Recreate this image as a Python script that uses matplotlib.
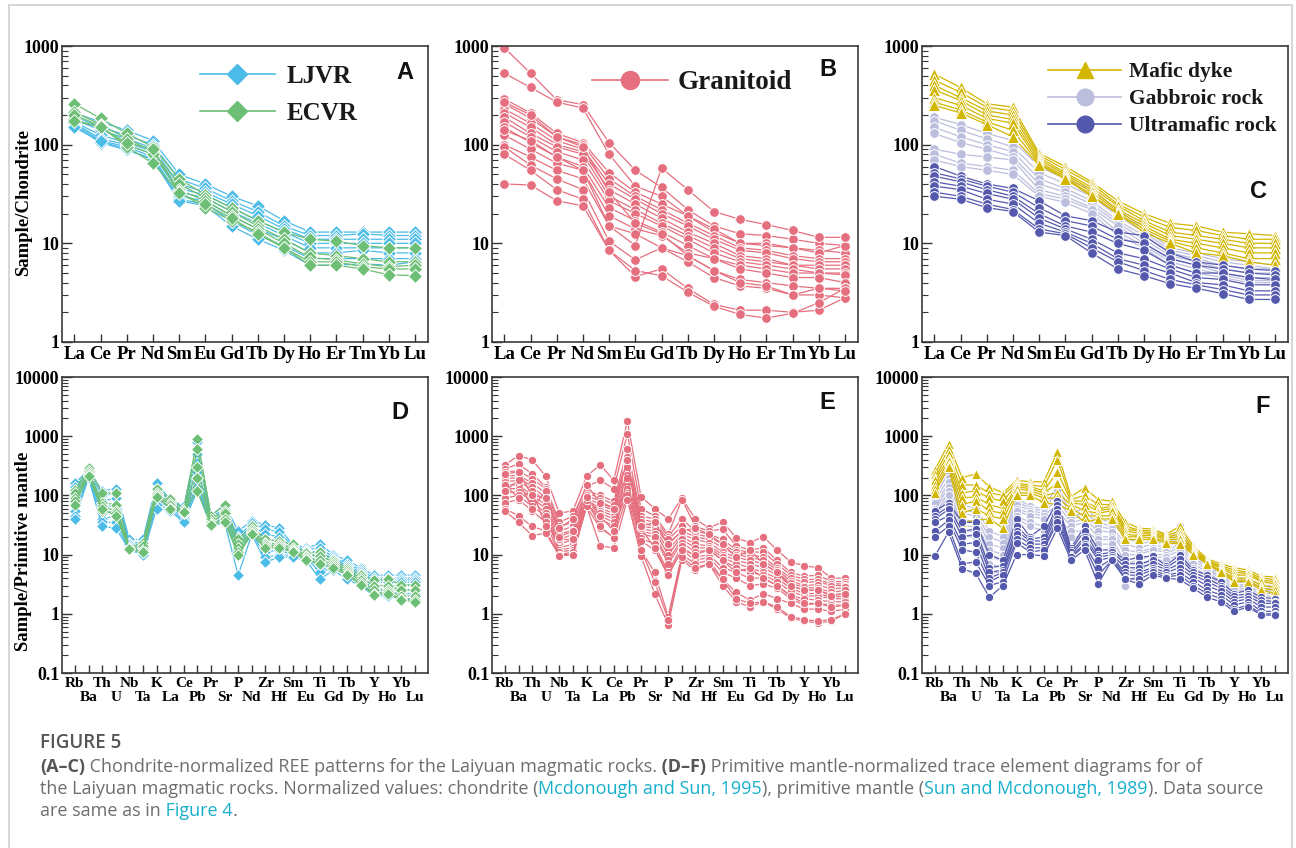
import matplotlib.pyplot as plt
from matplotlib.lines import Line2D
from matplotlib.patches import Rectangle

# element orders
ree = ['La', 'Ce', 'Pr', 'Nd', 'Sm', 'Eu', 'Gd', 'Tb', 'Dy', 'Ho', 'Er', 'Tm', 'Yb', 'Lu']
spider = ['Rb', 'Ba', 'Th', 'U', 'Nb', 'Ta', 'K', 'La', 'Ce', 'Pb', 'Pr', 'Sr', 'P',
          'Nd', 'Zr', 'Hf', 'Sm', 'Eu', 'Ti', 'Gd', 'Tb', 'Dy', 'Y', 'Ho', 'Yb', 'Lu']

# chondrite normalized REE (A)
ljvr_ree = [
    [210, 170, 140, 110, 50, 40, 30, 24, 17, 13, 13, 13, 13, 13],
    [195, 150, 125, 100, 45, 36, 27, 21, 15, 12, 12, 12.5, 12, 12],
    [180, 140, 115, 92, 40, 33, 25, 19, 14, 11, 11, 11, 11, 11],
    [170, 125, 105, 85, 36, 31, 23, 17, 13, 10, 10, 10, 10, 10],
    [165, 115, 100, 80, 33, 29, 21, 16, 12, 9, 9, 9, 9, 9],
    [160, 110, 95, 75, 30, 27, 19, 14, 11, 8, 8, 8.5, 8, 8],
    [155, 105, 88, 72, 28, 25, 17, 12, 9.5, 7, 7, 7, 7, 7],
    [150, 108, 90, 70, 27, 24, 15, 11, 8.5, 6, 6, 6.2, 6, 6.5],
]
ecvr_ree = [
    [260, 185, 130, 95, 45, 31, 23, 17, 13, 11, 10.5, 9.5, 9, 9],
    [215, 160, 115, 85, 40, 29, 21, 15, 11, 8, 7.5, 7, 6.5, 6.5],
    [180, 150, 100, 80, 35, 27, 19, 14, 10, 7.2, 6.8, 6.2, 5.8, 6],
    [200, 155, 95, 65, 33, 23, 17, 13, 9, 6.5, 6.5, 5.8, 5.5, 5.5],
    [175, 150, 105, 90, 32, 25, 18, 12.5, 9, 6, 6, 5.5, 4.8, 4.7],
]

# (B)
gran_ree = [
    [960, 530, 285, 255, 105, 55, 37, 22, 15, 12.5, 12, 11, 10, 9.5],
    [530, 380, 270, 235, 80, 38, 30, 19, 13, 10, 10, 9, 8.5, 8],
    [290, 210, 130, 105, 52, 33, 25, 19, 14, 10, 9.5, 9, 8, 9.5],
    [260, 185, 120, 100, 45, 30, 22, 16, 12, 9, 8.5, 7.5, 7, 7],
    [230, 165, 110, 90, 40, 28, 20, 15, 11, 8.5, 8, 7, 6.5, 6.5],
    [210, 150, 100, 85, 35, 25, 18, 13, 10, 7.5, 7, 6, 6, 6],
    [190, 130, 95, 80, 30, 22, 16, 12, 9, 7, 6.5, 6, 5.5, 5.5],
    [170, 120, 85, 70, 27, 20, 15, 11, 8, 6.5, 6, 5.5, 5, 5],
    [150, 105, 75, 60, 23, 17, 13, 9.5, 7, 6, 5.5, 5, 5, 4.8],
    [125, 90, 65, 55, 19, 14, 12, 8, 7, 5.5, 5, 4.5, 4.5, 4],
    [100, 75, 55, 45, 15, 12.5, 9, 7.5, 5.3, 4.3, 4, 3.7, 3.5, 3.5],
    [95, 62, 45, 35, 10.5, 6.8, 9, 6.5, 4.5, 3.7, 3.5, 3, 3, 2.8],
    [80, 55, 35, 28, 8.5, 4.6, 5.5, 3.5, 2.4, 2.1, 2.1, 2, 2.1, 2.8],
    [40, 39, 27, 24, 8.5, 5.3, 4.7, 3.2, 2.3, 1.9, 1.75, 1.95, 2.5, 3.5],
    [140, 110, 75, 55, 15, 9.5, 58, 35, 21, 17.5, 15.5, 13.5, 11.5, 11.5],
    [270, 200, 120, 95, 33, 16, 12.5, 7.5, 5.3, 4, 3.7, 3, 3.5, 3.3],
]

# (C)
mafic_ree = [
    [520, 380, 260, 240, 82, 60, 42, 27, 20, 16, 15, 13, 12.5, 12],
    [450, 340, 240, 220, 78, 56, 40, 25, 18.5, 14.5, 13.5, 12, 11, 11],
    [400, 300, 220, 200, 74, 52, 37, 24, 17, 13, 12, 11, 10, 10],
    [360, 280, 200, 180, 70, 50, 35, 22, 16, 12, 11, 10, 9, 9],
    [300, 250, 185, 165, 66, 48, 33, 21, 15, 11, 10, 9, 8, 8],
    [270, 225, 170, 140, 64, 46, 31, 20, 14, 10.5, 9, 8, 7, 7],
    [250, 210, 160, 120, 62, 45, 30, 20, 13, 10, 8, 7.5, 6.5, 6],
]
gabbro_ree = [
    [190, 160, 130, 110, 60, 45, 35, 22, 14, 9, 8, 7, 6.5, 6],
    [175, 140, 115, 95, 52, 40, 30, 19, 13, 8.5, 7.5, 6.5, 6, 5.5],
    [150, 120, 100, 85, 45, 36, 27, 17, 12, 8, 7, 6, 5.5, 5.5],
    [130, 105, 90, 75, 40, 33, 25, 16, 11, 7.5, 6.5, 5.5, 5, 5],
    [90, 80, 75, 70, 35, 30, 23, 15, 10, 7, 6, 5, 4.5, 4.5],
    [80, 65, 60, 55, 32, 28, 22, 13, 9.5, 6.5, 5.5, 4.8, 4.2, 4.2],
    [70, 60, 55, 50, 30, 26, 20, 12, 9, 6, 5, 4.5, 4, 4],
]
ultra_ree = [
    [60, 48, 40, 36, 27, 19, 17, 13, 12, 8, 6.5, 6, 5.5, 5.3],
    [52, 45, 38, 33, 23, 17, 15, 11, 10, 7, 6, 5.5, 5, 4.8],
    [48, 42, 35, 30, 20, 15, 13, 10, 8.5, 6, 5, 5, 4.5, 4.3],
    [42, 38, 32, 28, 18, 14, 11, 8, 7, 5.5, 4.5, 4.3, 3.8, 3.8],
    [38, 35, 28, 25, 16, 13, 10, 7, 6, 5, 4, 3.8, 3.3, 3.3],
    [33, 30, 25, 22, 14, 12.5, 9, 6.5, 5.3, 4.3, 3.8, 3.4, 3, 3],
    [30, 28, 23, 21, 13, 12, 8, 5.5, 4.7, 3.9, 3.5, 3.1, 2.7, 2.7],
]

# primitive mantle normalized (D)
ljvr_pm = [
    [160, 270, 120, 130, 18, 18, 160, 85, 65, 800, 45, 70, 25, 37, 32, 28, 15, 13, 15, 10, 8, 6, 4.5, 4.5, 4.5, 4.5],
    [140, 250, 100, 110, 16, 16, 130, 80, 60, 500, 42, 60, 20, 34, 27, 24, 14, 12, 13, 9, 7, 5.5, 4, 4, 4, 4],
    [120, 240, 80, 90, 15, 15, 110, 75, 55, 350, 40, 55, 18, 31, 22, 20, 13, 11.5, 11, 8.5, 6.5, 5, 3.7, 3.7, 3.7, 3.7],
    [100, 230, 60, 70, 14, 14, 100, 70, 50, 250, 38, 50, 16, 29, 18, 17, 12, 11, 9, 8, 6, 4.7, 3.4, 3.4, 3.4, 3.4],
    [80, 220, 50, 55, 13, 13, 90, 65, 45, 200, 35, 45, 14, 27, 14, 14, 11, 10, 7, 7, 5.5, 4.3, 3, 3, 3, 3],
    [55, 210, 40, 45, 12.5, 12, 80, 62, 42, 160, 33, 42, 12, 25, 11, 12, 10, 9.5, 6, 6.5, 5, 4, 2.6, 2.6, 2.5, 2.6],
    [45, 200, 35, 35, 12, 11, 70, 58, 38, 140, 31, 38, 10, 24, 9, 10, 9.5, 9, 5, 6, 4.5, 3.5, 2.3, 2.3, 2.2, 2.2],
    [40, 200, 30, 28, 12, 10, 60, 55, 35, 120, 30, 35, 4.5, 22, 7.5, 9, 9, 8, 3.8, 5.5, 3.8, 3, 2, 2, 1.8, 1.8],
]
ecvr_pm = [
    [125, 290, 110, 110, 13, 16, 130, 88, 60, 900, 45, 70, 18, 30, 18, 17, 15, 10.5, 11, 8, 6, 4.5, 3.7, 3.8, 3.1, 3.1],
    [110, 260, 75, 70, 12.5, 14, 110, 75, 55, 600, 40, 55, 15, 27, 16, 15, 13, 9.5, 9.5, 7.5, 5.5, 4, 3, 3, 2.5, 2.5],
    [90, 240, 65, 55, 12.5, 12, 100, 70, 52, 300, 35, 50, 13, 25, 15, 14, 12, 9, 8, 7, 5, 3.7, 2.5, 2.5, 2, 2],
    [80, 220, 55, 50, 12.5, 11, 95, 62, 50, 200, 33, 40, 11, 23, 14, 14, 11.5, 8.5, 7, 6.5, 4.7, 3.3, 2.2, 2.3, 1.8, 1.7],
    [70, 210, 60, 45, 12.5, 11, 95, 60, 52, 120, 32, 36, 10, 22, 13, 13, 11, 8, 7, 6, 4.5, 3.1, 2.1, 2.2, 1.7, 1.6],
]

# (E)
gran_pm = [
    [330, 470, 400, 210, 50, 55, 210, 330, 180, 1800, 95, 60, 40, 90, 40, 28, 36, 19, 16, 20, 12, 7.5, 6.5, 6, 4, 4],
    [280, 340, 230, 140, 35, 45, 140, 180, 130, 1100, 60, 45, 22, 85, 30, 25, 27, 14, 12, 13, 8, 5, 4.3, 4.5, 3.5, 3.5],
    [250, 260, 190, 130, 30, 35, 120, 100, 80, 600, 45, 40, 20, 40, 25, 22, 18, 12, 11, 11, 7, 4.5, 3.8, 3.8, 3.2, 3.2],
    [210, 220, 160, 110, 25, 30, 110, 90, 70, 450, 40, 35, 18, 30, 22, 20, 15, 11, 10, 9, 6, 4, 3.4, 3.5, 3, 3],
    [190, 200, 140, 90, 22, 26, 100, 80, 60, 350, 35, 30, 15, 25, 20, 18, 13, 10, 9, 8, 5.5, 3.6, 3, 3.1, 2.6, 2.8],
    [170, 180, 120, 80, 18, 22, 90, 70, 55, 280, 30, 28, 12, 22, 18, 16, 11, 9, 8, 7, 5, 3.3, 2.8, 2.7, 2.3, 2.5],
    [150, 150, 100, 70, 15, 18, 85, 60, 50, 220, 27, 25, 10, 20, 15, 14, 10, 8, 7, 6, 4.5, 3, 2.5, 2.5, 2.1, 2.2],
    [130, 130, 90, 60, 13, 15, 80, 55, 45, 180, 25, 22, 8, 18, 13, 13, 9, 7, 6, 5, 4, 2.7, 2.2, 2.2, 1.9, 2],
    [110, 115, 80, 50, 12, 13, 75, 50, 40, 150, 22, 20, 7, 16, 11, 12, 8, 6, 5, 4.5, 3.5, 2.4, 2, 2, 1.8, 1.8],
    [90, 100, 65, 45, 11, 12, 70, 45, 35, 130, 19, 15, 5, 14, 9, 10, 6, 5, 4, 4, 3, 2, 1.8, 1.7, 1.6, 1.6],
    [75, 85, 55, 35, 10, 11, 68, 40, 30, 110, 17, 12, 4.5, 12, 8, 9, 5, 4, 3, 3.2, 2.7, 1.8, 1.4, 1.5, 1.4, 1.4],
    [60, 45, 30, 25, 10, 10, 65, 28, 20, 100, 12, 5, 0.9, 10, 7, 8, 3.8, 2.3, 1.7, 2.2, 1.8, 1.5, 1.2, 1.2, 1.1, 1.2],
    [55, 35, 21, 23, 9.5, 10, 65, 14, 13, 85, 9.5, 2.2, 0.65, 8, 5.5, 7, 3, 1.6, 1.3, 1.6, 1.2, 0.85, 0.75, 0.7, 0.75, 1],
    [150, 90, 120, 30, 18, 18, 85, 30, 19, 200, 12, 3.5, 0.8, 9, 6, 7, 3.8, 1.8, 1.5, 1.6, 1.3, 0.9, 0.8, 0.75, 0.8, 1],
    [120, 180, 60, 120, 20, 25, 95, 45, 25, 300, 28, 13, 4.5, 12, 10, 12, 8, 5, 6, 4, 3, 2, 1.5, 1.5, 1.3, 1.4],
    [230, 250, 100, 90, 28, 40, 150, 75, 60, 400, 30, 35, 15, 25, 28, 22, 15, 9, 12, 7, 5, 3, 2.5, 2.5, 2, 2.2],
]

# (F)
mafic_pm = [
    [270, 750, 200, 230, 140, 110, 180, 170, 170, 540, 95, 135, 85, 80, 35, 28, 27, 22, 30, 14, 8.5, 7, 6, 5.5, 4.3, 4.2],
    [230, 600, 150, 150, 110, 100, 160, 150, 140, 400, 85, 100, 70, 70, 30, 26, 25, 21, 25, 13, 8, 6.5, 5.5, 5, 4, 3.8],
    [200, 500, 110, 120, 90, 80, 150, 140, 120, 250, 80, 80, 60, 65, 27, 25, 23, 20, 22, 12, 7.8, 6.2, 5, 4.8, 3.7, 3.5],
    [180, 420, 90, 95, 70, 60, 140, 130, 110, 160, 75, 70, 55, 60, 25, 23, 22, 19, 20, 11.5, 7.5, 6, 4.5, 4.5, 3.5, 3.2],
    [150, 380, 70, 80, 55, 50, 130, 120, 100, 110, 70, 55, 50, 55, 22, 21, 21, 18, 18, 11, 7.2, 5.5, 4, 4, 3, 2.8],
    [130, 330, 50, 60, 45, 40, 110, 110, 90, 90, 60, 45, 45, 45, 20, 20, 19, 17, 16, 10.5, 7, 5.2, 3.7, 3.7, 2.7, 2.5],
    [110, 300, 35, 38, 40, 28, 100, 100, 75, 70, 55, 35, 40, 40, 18, 18, 18, 16, 15, 10, 7, 5, 3.5, 3.5, 2.5, 2.2],
]
gabbro_pm = [
    [110, 300, 70, 60, 25, 20, 90, 65, 60, 150, 50, 60, 40, 35, 20, 15, 17, 15, 30, 11, 7, 5, 4, 4, 3, 3],
    [90, 250, 60, 50, 20, 16, 80, 60, 55, 120, 45, 50, 35, 30, 15, 13, 15, 13, 25, 10, 6.5, 4.6, 3.7, 3.7, 2.7, 2.7],
    [75, 200, 50, 45, 15, 13, 70, 55, 50, 90, 40, 45, 30, 27, 12, 11, 13, 12, 20, 9, 6, 4.2, 3.4, 3.4, 2.5, 2.4],
    [60, 170, 40, 35, 12, 10, 60, 50, 45, 70, 35, 40, 25, 24, 10, 10, 12, 11, 16, 8, 5.5, 4, 3.1, 3.1, 2.2, 2.2],
    [55, 140, 30, 30, 9, 8, 55, 45, 40, 55, 30, 35, 20, 20, 7, 8, 10, 10, 14, 7, 5, 3.6, 2.9, 2.9, 2, 2],
    [45, 120, 25, 25, 7, 6, 45, 35, 30, 40, 25, 25, 18, 18, 5, 6, 9, 9, 12, 6, 4.5, 3.3, 2.7, 2.7, 1.7, 1.7],
    [40, 100, 20, 20, 5, 5, 40, 30, 25, 30, 20, 20, 15, 15, 3, 5, 8, 8, 10, 5, 4, 3, 2.5, 2.5, 1.5, 1.5],
]
ultra_pm = [
    [55, 75, 35, 35, 10, 8, 40, 20, 30, 80, 13, 30, 12, 12, 8, 9, 9.5, 6.5, 10, 5.5, 4.5, 3.5, 2.2, 2.5, 1.9, 1.8],
    [45, 65, 25, 27, 6, 6.5, 30, 18, 20, 70, 12, 25, 10, 11, 7, 7, 8, 6, 8.5, 5, 4, 3, 2, 2.2, 1.7, 1.6],
    [40, 58, 20, 22, 5, 5.5, 25, 17, 17, 60, 11, 20, 9, 10, 6, 6, 7, 5.5, 7, 4.5, 3.5, 2.7, 1.8, 2, 1.5, 1.5],
    [35, 45, 15, 16, 4, 5, 22, 15, 15, 50, 10, 18, 8, 9, 5, 5, 6, 5, 6, 4, 3, 2.4, 1.6, 1.8, 1.3, 1.3],
    [25, 38, 12, 11, 3.5, 4.5, 18, 13, 13, 40, 9.5, 15, 6, 8.5, 4.5, 4.5, 5.5, 4.5, 5, 3.5, 2.5, 2.1, 1.4, 1.6, 1.1, 1.1],
    [20, 30, 7, 7.5, 3, 3.5, 16, 11, 12, 35, 9, 14, 4.5, 8, 4, 3.8, 5, 4.2, 4.5, 3, 2.2, 1.8, 1.2, 1.4, 1, 1],
    [9.5, 24, 5.8, 4.8, 1.9, 3, 10, 10, 9.5, 28, 8, 12, 3.2, 8, 3.8, 3.2, 4.5, 4, 3.8, 2.7, 1.9, 1.6, 1.1, 1.3, 0.95, 0.95],
]

c_ljvr = '#4bbbe8'
c_ecvr = '#6cbf74'
c_gran = '#e56f7e'
c_mafic = '#d2b600'
c_gabbro = '#bcbedd'
c_ultra = '#5559ad'

serif = 'Liberation Serif'
sans = 'Liberation Sans'

fig = plt.figure(figsize=(12.96, 8.48), dpi=100)

W, H = 1296, 848
def axes_at(left, top, w=366, h=296):
    return fig.add_axes([left / W, 1 - (top + h) / H, w / W, h / H])

axA = axes_at(62, 46)
axB = axes_at(492, 46)
axC = axes_at(922, 46)
axD = axes_at(62, 377)
axE = axes_at(492, 377)
axF = axes_at(922, 377)


def draw(ax, rows, color, marker, ms):
    for r in rows:
        ax.plot(range(len(r)), r, color=color, lw=0.9, marker=marker, ms=ms,
                mfc=color, mec='white', mew=0.7)


def style(ax, names, ylo, yhi, ticks, two_rows=False):
    ax.set_yscale('log')
    ax.set_ylim(ylo, yhi)
    n = len(names)
    if two_rows:
        ax.set_xlim(-0.95, n - 1 + 0.95)
        fs = 11
    else:
        ax.set_xlim(-0.47, n - 1 + 0.5)
        fs = 13.5
    ax.set_xticks(range(n))
    ax.set_xticklabels(names, fontsize=fs, fontweight='bold', family=serif)
    ax.set_yticks(ticks)
    ax.set_yticklabels([('%g' % t) for t in ticks], fontsize=13,
                       fontweight='bold', family=serif)
    ax.tick_params(axis='x', direction='in', length=6, width=1, pad=3,
                   top=False, color='#333333')
    ax.tick_params(axis='y', which='major', direction='in', length=7, width=1,
                   pad=2, right=False, color='#333333')
    ax.tick_params(axis='y', which='minor', direction='in', length=4, width=0.8,
                   right=False, color='#333333')
    if two_rows:
        # second row of labels sits lower
        for i, tk in enumerate(ax.xaxis.get_major_ticks()):
            if i % 2 == 1:
                tk.set_pad(13)
    for s in ax.spines.values():
        s.set_color('#3a3a3a')
        s.set_linewidth(1.2)


draw(axA, ljvr_ree, c_ljvr, 'D', 7)
draw(axA, ecvr_ree, c_ecvr, 'D', 7)
draw(axB, gran_ree, c_gran, 'o', 7)
draw(axC, gabbro_ree, c_gabbro, 'o', 7)
draw(axC, mafic_ree, c_mafic, '^', 8)
draw(axC, ultra_ree, c_ultra, 'o', 7)

draw(axD, ljvr_pm, c_ljvr, 'D', 6)
draw(axD, ecvr_pm, c_ecvr, 'D', 6)
draw(axE, gran_pm, c_gran, 'o', 6)
draw(axF, gabbro_pm, c_gabbro, 'o', 6)
draw(axF, mafic_pm, c_mafic, '^', 7)
draw(axF, ultra_pm, c_ultra, 'o', 6)

for ax in (axA, axB, axC):
    style(ax, ree, 1, 1000, [1, 10, 100, 1000])
for ax in (axD, axE, axF):
    style(ax, spider, 0.1, 10000, [0.1, 1, 10, 100, 1000, 10000], two_rows=True)

axA.set_ylabel('Sample/Chondrite', fontsize=13.5, fontweight='bold', family=serif)
axA.yaxis.set_label_coords(-0.082, 0.47)
axD.set_ylabel('Sample/Primitive mantle', fontsize=13.5, fontweight='bold', family=serif)
axD.yaxis.set_label_coords(-0.082, 0.41)

# panel letters
for ax, letter, x, y in [(axA, 'A', 0.937, 0.91), (axB, 'B', 0.918, 0.92),
                         (axC, 'C', 0.92, 0.51), (axD, 'D', 0.924, 0.88),
                         (axE, 'E', 0.915, 0.915), (axF, 'F', 0.93, 0.90)]:
    ax.text(x, y, letter, transform=ax.transAxes, ha='center', va='center',
            fontsize=17, fontweight='bold', family=sans, color='#111111')


def handle(color, marker, ms):
    return Line2D([], [], color=color, lw=1.2, marker=marker, ms=ms, mfc=color,
                  mec=color)


leg_font = {'family': serif, 'weight': 'bold', 'size': 18}
axA.legend([handle(c_ljvr, 'D', 10), handle(c_ecvr, 'D', 10)], ['LJVR', 'ECVR'],
           loc='upper left', bbox_to_anchor=(0.377, 0.935), frameon=False,
           prop=leg_font, handlelength=3.0, handletextpad=0.45, labelspacing=0.55,
           borderpad=0, borderaxespad=0, numpoints=1, labelcolor='#1a1a1a')
axB.legend([handle(c_gran, 'o', 13)], ['Granitoid'],
           loc='upper left', bbox_to_anchor=(0.273, 0.918), frameon=False,
           prop={'family': serif, 'weight': 'bold', 'size': 19.5},
           handlelength=2.8, handletextpad=0.35, borderpad=0, borderaxespad=0,
           numpoints=1, labelcolor='#1a1a1a')
axC.legend([handle(c_mafic, '^', 12), handle(c_gabbro, 'o', 12), handle(c_ultra, 'o', 12)],
           ['Mafic dyke', 'Gabbroic rock', 'Ultramafic rock'],
           loc='upper left', bbox_to_anchor=(0.344, 0.945), frameon=False,
           prop={'family': serif, 'weight': 'bold', 'size': 15.5},
           handlelength=3.4, handletextpad=0.35, labelspacing=0.32, borderpad=0,
           borderaxespad=0, numpoints=1, labelcolor='#1a1a1a')

# outer frame
fig.add_artist(Rectangle((9 / W, -0.05), (1292 - 9) / W, 1.05 - 5 / H,
                         transform=fig.transFigure, fill=False,
                         edgecolor='#d0d0d0', lw=1.2))

# caption
grey = '#6e6e6e'
dark = '#555555'
link = '#17b0cc'
cap_font = 'Open Sans'
fig.text(40 / W, 1 - 743 / H, 'FIGURE 5', fontsize=13.5, fontweight='semibold',
         family=cap_font, color=dark, va='center')

renderer = fig.canvas.get_renderer()


def rich_line(ypx, parts):
    x = 40 / W
    for s, col, wt in parts:
        t = fig.text(x, 1 - ypx / H, s, fontsize=13, fontweight=wt,
                     family=cap_font, color=col, va='center')
        bb = t.get_window_extent(renderer=renderer)
        x += bb.width / fig.bbox.width


rich_line(767, [('(A\u2013C)', dark, 'bold'),
                (' Chondrite-normalized REE patterns for the Laiyuan magmatic rocks.', grey, 'normal'),
                (' (D\u2013F)', dark, 'bold'),
                (' Primitive mantle-normalized trace element diagrams for of', grey, 'normal')])
rich_line(789, [('the Laiyuan magmatic rocks. Normalized values: chondrite (', grey, 'normal'),
                ('Mcdonough and Sun, 1995', link, 'normal'),
                ('), primitive mantle (', grey, 'normal'),
                ('Sun and Mcdonough, 1989', link, 'normal'),
                ('). Data source', grey, 'normal')])
rich_line(811, [('are same as in', grey, 'normal'),
                (' Figure 4', link, 'normal'),
                ('.', grey, 'normal')])

fig.savefig('out.png', dpi=100)
